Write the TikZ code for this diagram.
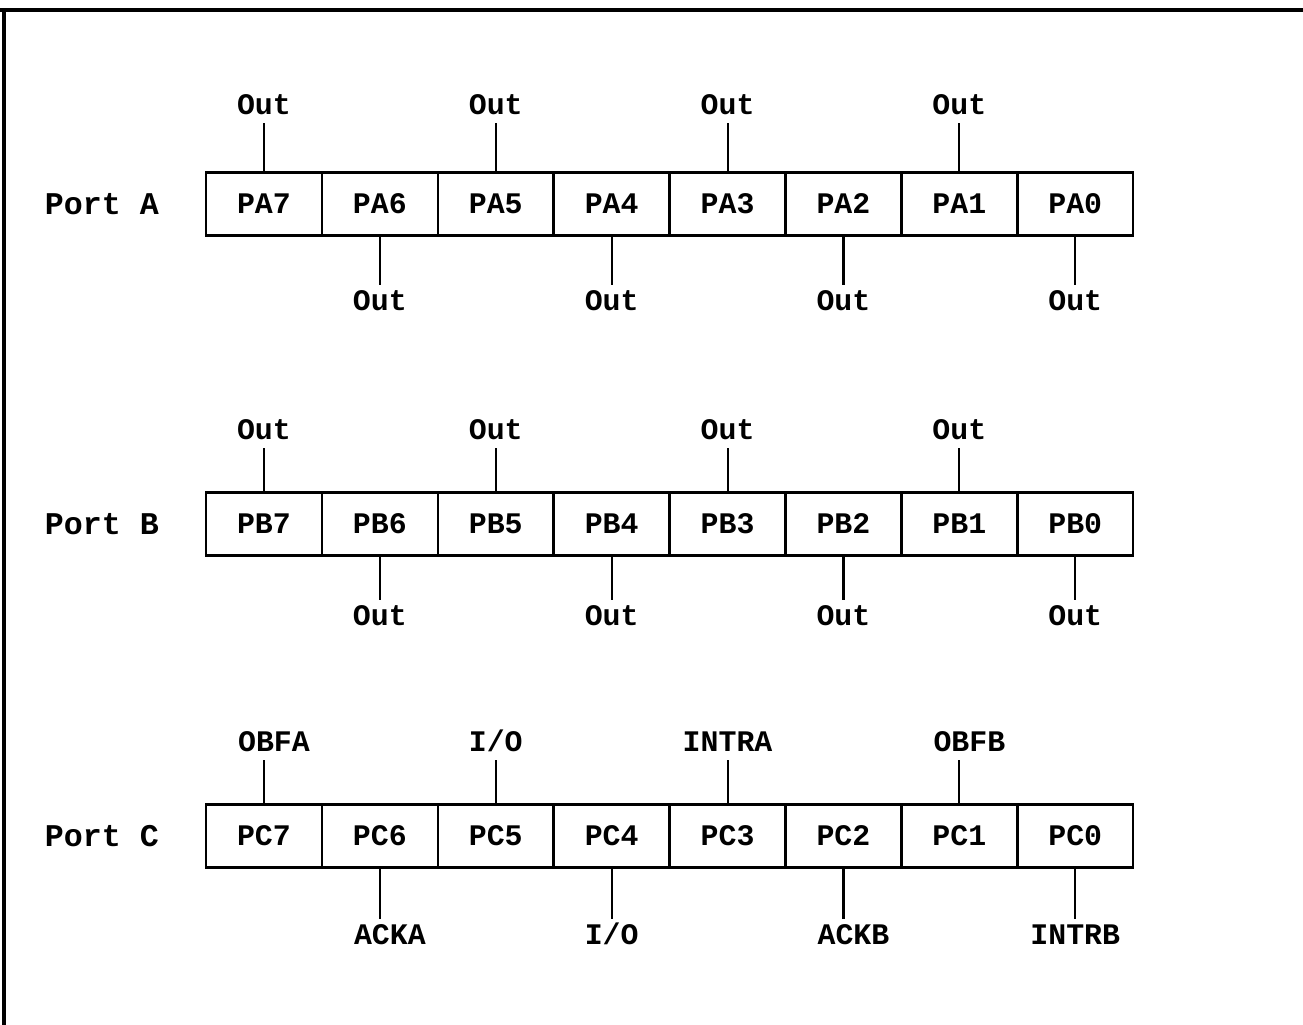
\documentclass[tikz,border=0pt]{standalone}
\usepackage{fontspec}
\setmonofont{Liberation Mono}
\usetikzlibrary{positioning}

\begin{document}
\begin{tikzpicture}[x=0.02cm,y=-0.02cm,
  portfont/.style={font=\fontsize{17}{20}\selectfont\ttfamily\bfseries},
  bitcell/.style={portfont,draw,line width=1.4pt,outer sep=0pt,
    minimum width=2.318cm,minimum height=1.26cm,inner sep=0pt},
  pinlabel/.style={portfont,inner sep=0.15cm,text height=0.34cm,text depth=0pt},
  pinline/.style={line width=1.2pt}]
  \useasboundingbox (0,0) rectangle (1303,1025);
  % page frame (only top and left edges survive)
  \draw[line width=2.5pt] (0,10) -- (1303,10);
  \draw[line width=2pt] (4,10) -- (4,1025);
  % the three ports, bit 7 on the left
  \foreach \row/\y in {A/204,B/524,C/836} {
    \foreach \b in {7,...,0}
      \node[bitcell] (p\row\b) at ({206+115.9*(7.5-\b)},\y) {P\row\b};
    \node[portfont,left=0.82cm of p\row7,font=\fontsize{18}{20}\selectfont\ttfamily\bfseries] (port\row) {Port \row};
  }
  % ports A and B: all pins are outputs
  \foreach \row/\gap in {A/1cm,B/0.9cm} {
    \foreach \b in {7,5,3,1} {
      \node[pinlabel,above=\gap of p\row\b] (t\row\b) {Out};
      \draw[pinline] (p\row\b) -- (t\row\b);
    }
    \foreach \b in {6,4,2,0} {
      \node[pinlabel,below=\gap of p\row\b] (b\row\b) {Out};
      \draw[pinline] (p\row\b) -- (b\row\b);
    }
  }
  % port C: handshake lines
  \foreach \b/\txt/\dx in {7/OBFA/10,5/{I/O}/0,3/INTRA/0,1/OBFB/10} {
    \node[pinlabel,above=0.9cm of pC\b,xshift=\dx*0.02cm] (tC\b) {\txt};
    \draw[pinline] (pC\b.north) -- (pC\b.north |- tC\b.south);
  }
  \foreach \b/\txt/\dx in {6/ACKA/10,4/{I/O}/0,2/ACKB/10,0/INTRB/0} {
    \node[pinlabel,below=1.04cm of pC\b,xshift=\dx*0.02cm] (bC\b) {\txt};
    \draw[pinline] (pC\b.south) -- (pC\b.south |- bC\b.north);
  }
\end{tikzpicture}
\end{document}
